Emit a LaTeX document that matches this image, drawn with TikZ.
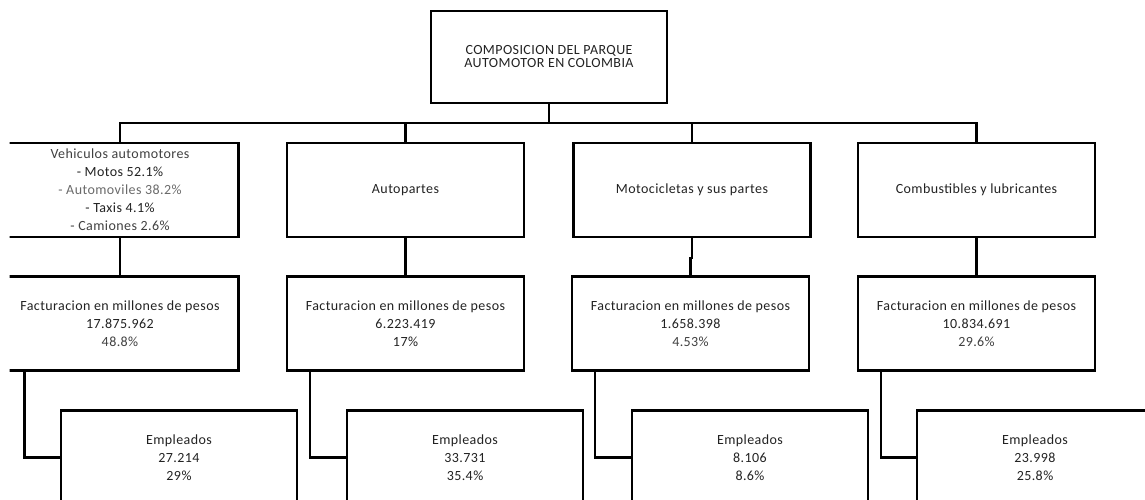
\documentclass[tikz,border=0pt]{standalone}
\usepackage{fontspec}
\setmainfont{Carlito}[LetterSpace=3]
\definecolor{txt}{HTML}{222222}
\definecolor{txtlight}{HTML}{6A6A6A}
\definecolor{txtmid}{HTML}{404040}
\begin{document}
\begin{tikzpicture}[x=1pt,y=-1pt,
  box/.style={draw=black, line width=2.2pt, minimum width=237pt, minimum height=94pt,
    inner sep=0pt, align=center, text=txt, font=\fontsize{14}{18}\selectfont},
  topbox/.style={box, minimum width=236pt, minimum height=92pt, font=\fontsize{14}{13}\selectfont},
  conn/.style={line width=2.2pt, draw=black}]
\useasboundingbox (0,0) rectangle (1145,499);
\clip (9.5,0) rectangle (1145,499);

% top
\node[topbox] (top) at (549,57) {COMPOSICION DEL PARQUE\\AUTOMOTOR EN COLOMBIA};

% level 1
\node[box] (l1a) at (120,190) {{\color{txtmid}Vehiculos automotores}\\- Motos 52.1\%\\{\color{txtlight}- Automoviles 38.2\%}\\- Taxis 4.1\%\\{\color{txtmid}- Camiones 2.6\%}};
\node[box] (l1b) at (405.5,190) {Autopartes};
\node[box] (l1c) at (692,190) {Motocicletas y sus partes};
\node[box] (l1d) at (976.5,190) {Combustibles y lubricantes};

% level 2
\node[box] (l2a) at (120,323.5) {Facturacion en millones de pesos\\17.875.962\\{\color{txtmid}48.8\%}};
\node[box] (l2b) at (405.5,323.5) {Facturacion en millones de pesos\\6.223.419\\17\%};
\node[box] (l2c) at (690.5,323.5) {Facturacion en millones de pesos\\1.658.398\\{\color{txtmid}4.53\%}};
\node[box] (l2d) at (976.5,323.5) {Facturacion en millones de pesos\\10.834.691\\{\color{txtmid}29.6\%}};

% employees
\node[box, minimum width=236pt] (ea) at (179,457.5) {Empleados\\27.214\\29\%};
\node[box, minimum width=236pt] (eb) at (465,457.5) {Empleados\\33.731\\35.4\%};
\node[box, minimum width=236pt] (ec) at (750,457.5) {Empleados\\8.106\\8.6\%};
\node[box, minimum width=236pt] (ed) at (1035,457.5) {Empleados\\23.998\\25.8\%};

% bus
\coordinate (bus) at (549,123);
\draw[conn] (top.south) -- (bus);
\draw[conn] (l1a.north) |- (bus) -| (l1d.north);
\draw[conn] (l1b.north) -- (l1b.north |- bus);
\draw[conn] (l1c.north) -- (l1c.north |- bus);

% level1 -> level2
\draw[conn] (l1a.south) -- (l2a.north);
\draw[conn] (l1b.south) -- (l2b.north);
\draw[conn] (l1c.south) -- ++(0,20) -| (l2c.north);
\draw[conn] (l1d.south) -- (l2d.north);

% level2 -> employees
\draw[conn] ([xshift=24pt]l2a.south west) |- (ea.west);
\draw[conn] ([xshift=24pt]l2b.south west) |- (eb.west);
\draw[conn] ([xshift=24pt]l2c.south west) |- (ec.west);
\draw[conn] ([xshift=24pt]l2d.south west) |- (ed.west);
\end{tikzpicture}
\end{document}
